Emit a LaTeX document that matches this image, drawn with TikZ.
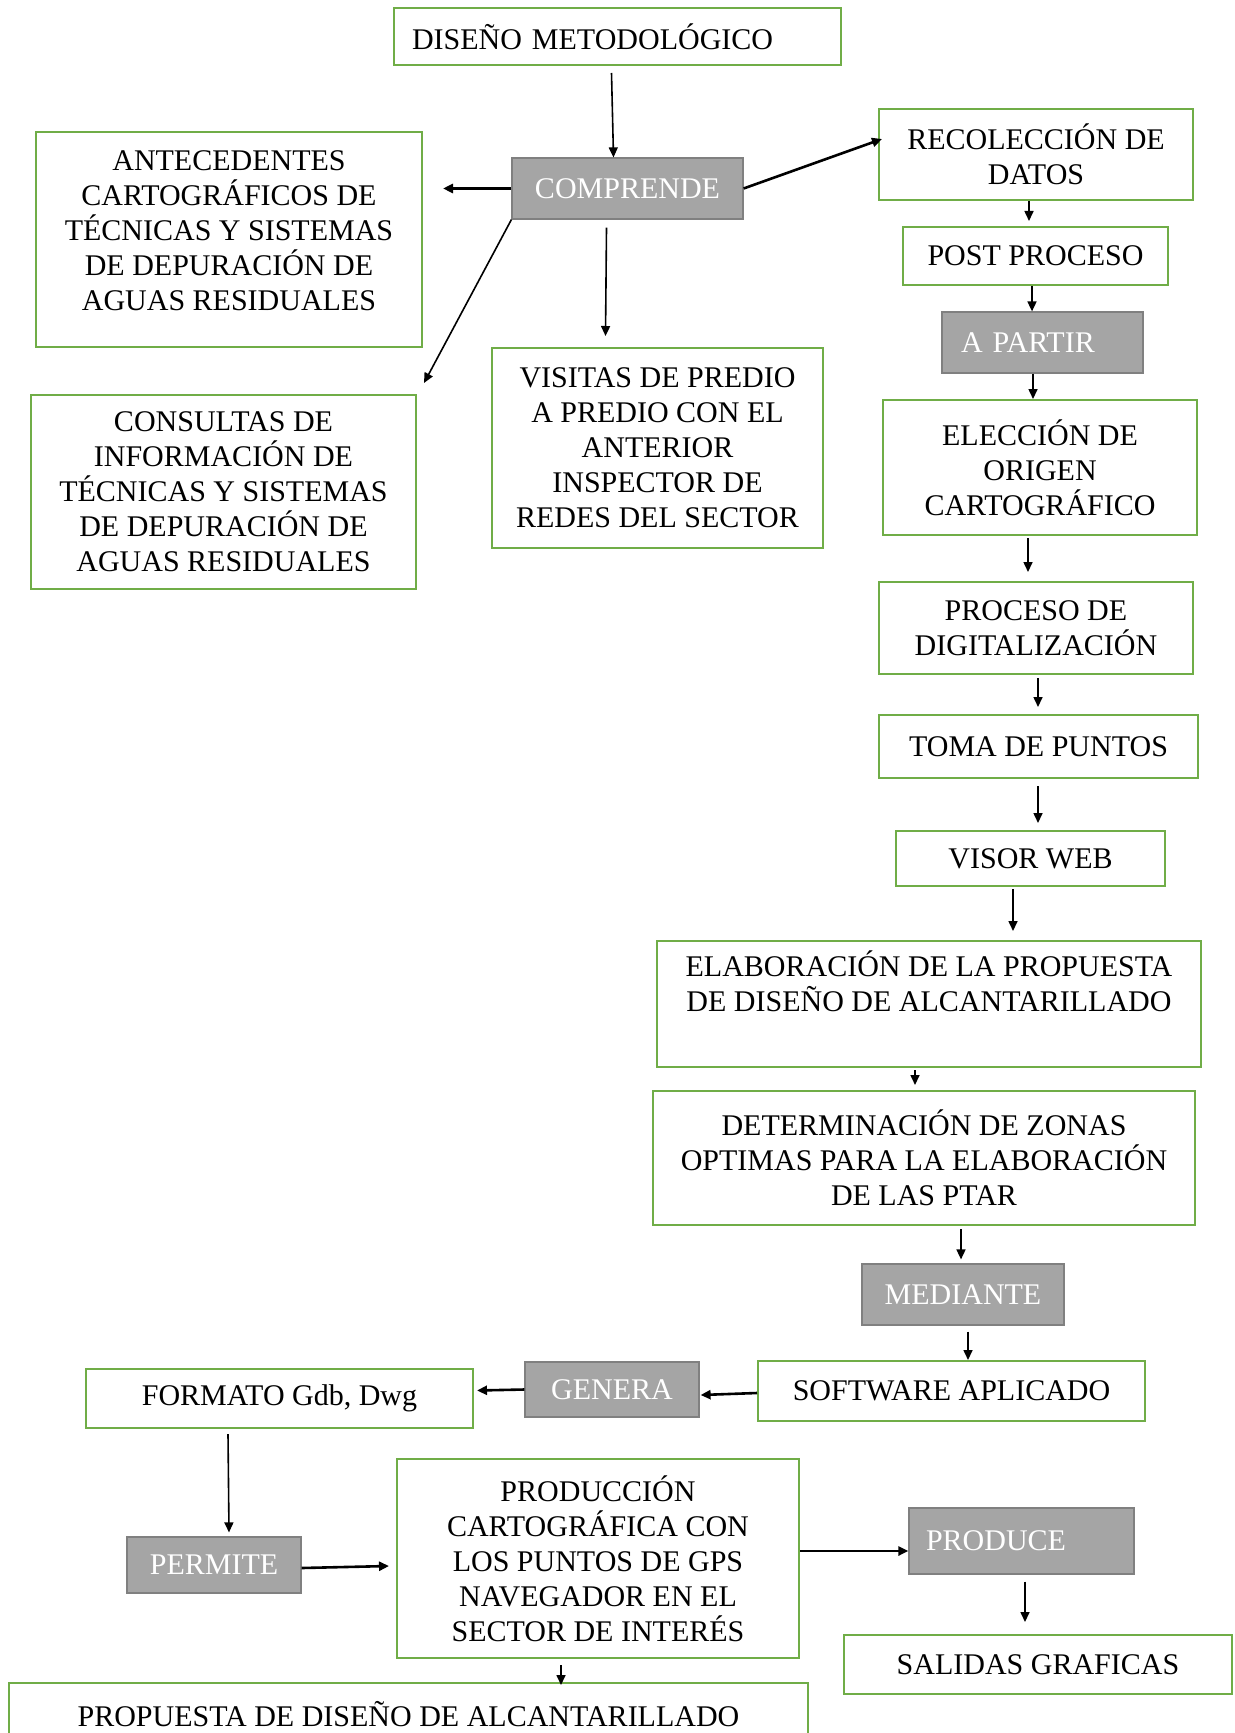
\documentclass[tikz,border=0pt]{standalone}
\usepackage{fontspec}
\setmainfont{Liberation Serif}
\usetikzlibrary{arrows.meta,calc}
\definecolor{boxgreen}{RGB}{112,173,71}
\definecolor{boxgrey}{RGB}{165,165,165}
\definecolor{greyline}{RGB}{128,128,128}

\begin{document}
\begin{tikzpicture}[x=0.5pt,y=-0.5pt,
  font=\fontsize{15}{17.5}\selectfont,
  gbox/.style={draw=boxgreen, line width=1pt, align=center, inner sep=0pt},
  gtag/.style={draw=greyline, fill=boxgrey, text=white, line width=0.6pt, align=center, inner sep=0pt},
  arr/.style={-{Triangle[length=5pt,width=4.5pt]}, line width=0.8pt},
  thickarr/.style={arr, line width=1.3pt}]
  \useasboundingbox (0,0) rectangle (1235,1733);
  \node[gbox, minimum width=223.5pt, minimum height=28.5pt, text width=205.5pt, inner xsep=9pt, align=left] (diseno) at (617.5,36.5) {DISEÑO METODOLÓGICO};
  \node[gtag, minimum width=115.5pt, minimum height=30.5pt] (comprende) at (627.5,188.5) {COMPRENDE};
  \node[gbox, minimum width=157pt, minimum height=45.5pt] (recoleccion) at (1036,154.5) {RECOLECCIÓN DE\\DATOS};
  \node[gbox, minimum width=193pt, minimum height=107.5pt, text depth=9pt] (antecedentes) at (229,239.5) {ANTECEDENTES\\CARTOGRÁFICOS DE\\TÉCNICAS Y SISTEMAS\\DE DEPURACIÓN DE\\AGUAS RESIDUALES};
  \node[gbox, minimum width=132.5pt, minimum height=29pt] (post) at (1035.5,256) {POST PROCESO};
  \node[gtag, minimum width=100.5pt, minimum height=30.5pt, text width=81.5pt, inner xsep=9.5pt, align=left] (apartir) at (1042.5,342.5) {A PARTIR};
  \node[gbox, minimum width=165.5pt, minimum height=100pt] (visitas) at (657.5,448) {VISITAS DE PREDIO\\A PREDIO CON EL\\ANTERIOR\\INSPECTOR DE\\REDES DEL SECTOR};
  \node[gbox, minimum width=192.5pt, minimum height=97pt] (consultas) at (223.5,492) {CONSULTAS DE\\INFORMACIÓN DE\\TÉCNICAS Y SISTEMAS\\DE DEPURACIÓN DE\\AGUAS RESIDUALES};
  \node[gbox, minimum width=157pt, minimum height=67.5pt] (eleccion) at (1040,467.5) {ELECCIÓN DE\\ORIGEN\\CARTOGRÁFICO};
  \node[gbox, minimum width=157pt, minimum height=46pt] (proceso) at (1036,628) {PROCESO DE\\DIGITALIZACIÓN};
  \node[gbox, minimum width=159.5pt, minimum height=31.5pt] (toma) at (1038.5,746.5) {TOMA DE PUNTOS};
  \node[gbox, minimum width=134.5pt, minimum height=27.5pt] (visor) at (1030.5,858.5) {VISOR WEB};
  \node[gbox, minimum width=272pt, minimum height=63pt] (elaboracion) at (929,1004) {ELABORACIÓN DE LA PROPUESTA\\DE DISEÑO DE ALCANTARILLADO\\\strut};
  \node[gbox, minimum width=271pt, minimum height=67pt] (determinacion) at (924,1158) {DETERMINACIÓN DE ZONAS\\OPTIMAS PARA LA ELABORACIÓN\\DE LAS PTAR};
  \node[gtag, minimum width=101pt, minimum height=30.5pt] (mediante) at (963,1294.5) {MEDIANTE};
  \node[gbox, minimum width=193.5pt, minimum height=30pt] (software) at (951.5,1391) {SOFTWARE APLICADO};
  \node[gtag, minimum width=87pt, minimum height=27.5pt] (genera) at (612,1389.5) {GENERA};
  \node[gbox, minimum width=193.5pt, minimum height=29.5pt] (formato) at (279.5,1398.5) {FORMATO Gdb, Dwg};
  \node[gtag, minimum width=87pt, minimum height=28pt] (permite) at (214,1565) {PERMITE};
  \node[gbox, minimum width=201pt, minimum height=99.5pt] (produccion) at (598,1558.5) {PRODUCCIÓN\\CARTOGRÁFICA CON\\LOS PUNTOS DE GPS\\NAVEGADOR EN EL\\SECTOR DE INTERÉS};
  \node[gtag, minimum width=112.5pt, minimum height=33pt, text width=95.5pt, inner xsep=8.5pt, align=left] (produce) at (1021.5,1541) {PRODUCE};
  \node[gbox, minimum width=194pt, minimum height=29.5pt] (salidas) at (1038,1664.5) {SALIDAS GRAFICAS};
  \node[gbox, minimum width=399.5pt, minimum height=31pt] (propuesta) at (408.5,1714) {PROPUESTA DE DISEÑO DE ALCANTARILLADO};
  % arrows
  \draw[arr] ($(diseno.south)+(-6,7)$) -- ($(comprende.north)+(-14,0)$);
  \draw[thickarr, shorten >=10pt] (comprende.west) -- (comprende.west -| antecedentes.east);
  \draw[thickarr] (comprende.east) -- ($(recoleccion.west)+(4,-15.5)$);
  \draw[arr] (comprende.south west) -- ($(consultas.north east)+(7,-11)$);
  \draw[arr] ($(comprende.south)+(-21,8)$) -- ($(visitas.north)+(-52,-11)$);
  \draw[arr] ($(recoleccion.south)+(-7,0)$) -- ($(post.north)+(-6.5,-5)$);
  \draw[arr] ($(post.south)+(-3.5,0)$) -- ($(apartir.north)+(-10.5,0)$);
  \draw[arr] ($(apartir.south)+(-9.5,0)$) -- ($(eleccion.north)+(-7,0)$);
  \draw[arr] ($(eleccion.south)+(-12,2)$) -- ($(proceso.north)+(-8,-9)$);
  \draw[arr] ($(proceso.south)+(2,3)$) -- ($(toma.north)+(-0.5,-7)$);
  \draw[arr] ($(toma.south)+(-0.5,7)$) -- ($(visor.north)+(7.5,-7)$);
  \draw[arr] ($(visor.south)+(-17.5,2)$) -- ($(elaboracion.north)+(84,-9)$);
  \draw[arr] ($(elaboracion.south)+(-14,2)$) -- ($(determinacion.north)+(-9,-5)$);
  \draw[arr] ($(determinacion.south)+(37,3)$) -- ($(mediante.north)+(-2,-4)$);
  \draw[arr] ($(mediante.south)+(5,6)$) -- ($(software.north)+(16.5,0)$);
  \draw[thickarr] ($(software.west)+(0,2)$) -- ($(genera.east)+(1,5.5)$);
  \draw[thickarr] (genera.west) -- ($(genera.west -| formato.east)+(3,1)$);
  \draw[arr] ($(formato.south)+(-51.5,5)$) -- ($(permite.north)+(15,-4)$);
  \draw[thickarr] ($(permite.east)+(0,3)$) -- ($(produccion.west)+(-7,7.5)$);
  \draw[thickarr] ($(produccion.east)+(0,-7.5)$) -- ($(produce.west)+(0,10)$);
  \draw[arr] ($(produce.south)+(3.5,7)$) -- ($(salidas.north)+(-13,-12)$);
  \draw[arr] ($(produccion.south)+(-37,6)$) -- ($(propuesta.north)+(152.5,3)$);
\end{tikzpicture}
\end{document}
